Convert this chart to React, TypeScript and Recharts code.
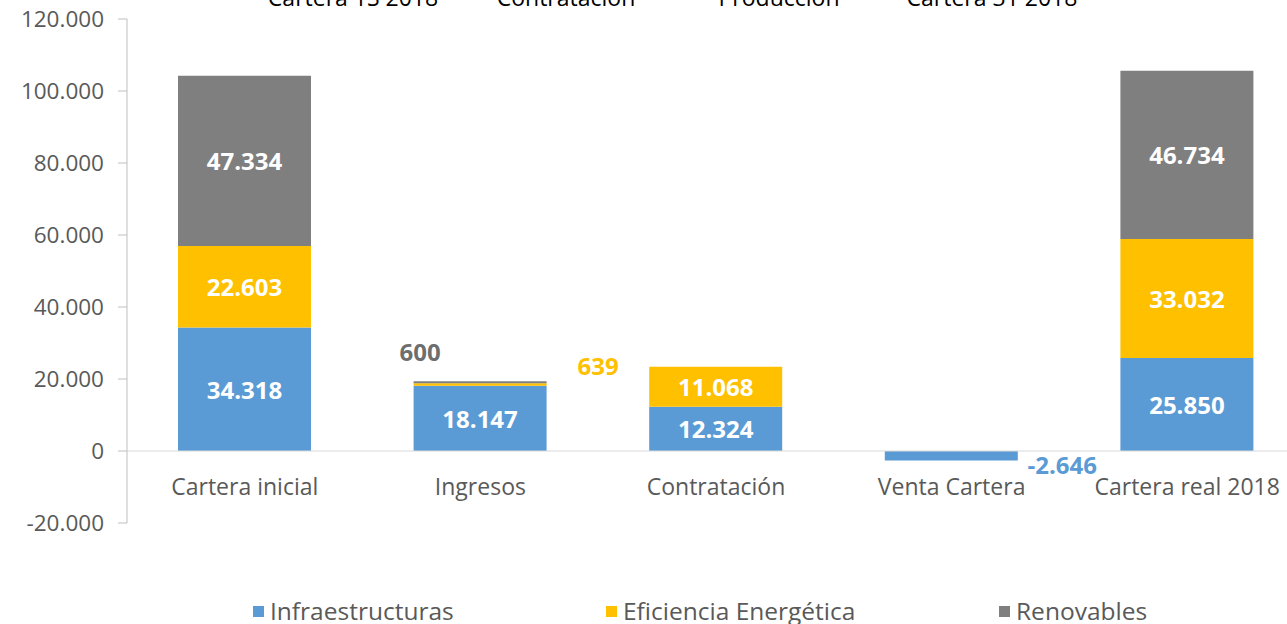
import { JSX } from 'react';
import {
  Bar,
  BarChart,
  LabelList,
  ReferenceLine,
  XAxis,
  YAxis,
} from 'recharts';

// categories and values
const categories = [
  'Cartera inicial',
  'Ingresos',
  'Contratación',
  'Venta Cartera',
  'Cartera real 2018',
];
const infraestructuras = [34318, 18147, 12324, -2646, 25850];
const eficiencia = [22603, 639, 11068, 0, 33032];
const renovables = [47334, 600, 0, 0, 46734];
const yTicks = [-20000, 0, 20000, 40000, 60000, 80000, 100000, 120000];
const topTitles = ['Cartera 1S 2018', 'Contratación', 'Producción', 'Cartera 31 2018'];

const FONT = "'Open Sans', sans-serif";
const TEXT = '#595959';
const COLORS = {
  infra: '#5B9BD5',
  ee: '#FFC000',
  ren: '#7F7F7F',
};

const data = categories.map((name, i) => ({
  name,
  infra: infraestructuras[i],
  ee: eficiencia[i],
  ren: renovables[i],
}));

// labels that sit outside their (thin) segment: [dx, dy] from segment centre
const outside: Record<string, Record<number, [number, number]>> = {
  infra: { 3: [111, 9] },
  ee: { 1: [118, -19] },
  ren: { 1: [-60, -31] },
};
const outsideColor: Record<string, string> = {
  infra: '#5B9BD5',
  ee: '#FFC000',
  ren: '#6E6E6E',
};

const fmt = (v: number): string => {
  const s = Math.abs(v).toString().replace(/\B(?=(\d{3})+(?!\d))/g, '.');
  return v < 0 ? '-' + s : s;
};

const makeLabel = (key: string) => (props: any): JSX.Element | null => {
  const { x, y, width, height, value, index } = props;
  if (!value) return null;
  const cx = Number(x) + Number(width) / 2;
  const cy = Number(y) + Number(height) / 2;
  const off = outside[key]?.[index];
  return (
    <text
      x={off ? cx + off[0] : cx}
      y={off ? cy + off[1] : cy}
      textAnchor='middle'
      dominantBaseline='central'
      fill={off ? outsideColor[key] : '#FFFFFF'}
      fontFamily={FONT}
      fontWeight={700}
      fontSize={24}
    >
      {fmt(Number(value))}
    </text>
  );
};

const CategoryTick = (props: any): JSX.Element => {
  const { x, y, payload } = props;
  return (
    <text
      x={x}
      y={y - 28}
      textAnchor='middle'
      fill={TEXT}
      fontFamily={FONT}
      fontSize={23}
    >
      {payload.value}
    </text>
  );
};

const legendItems = [
  { label: 'Infraestructuras', color: COLORS.infra, left: 253 },
  { label: 'Eficiencia Energética', color: COLORS.ee, left: 606 },
  { label: 'Renovables', color: COLORS.ren, left: 999 },
];
const titleCenters = [353, 566, 779, 992];

export default function App(): JSX.Element {
  return (
    <div
      style={{
        position: 'fixed',
        left: 0,
        top: 0,
        width: 1287,
        height: 624,
        overflow: 'hidden',
        background: '#fff',
        fontFamily: FONT,
      }}
    >
      <BarChart
        width={1305}
        height={624}
        data={data}
        margin={{ top: 19, right: 0, bottom: 71, left: 0 }}
        stackOffset='sign'
        barSize={133}
      >
        <YAxis
          width={127}
          domain={[-20000, 120000]}
          ticks={yTicks}
          interval={0}
          tickFormatter={(v: number) => fmt(v)}
          stroke='#BFBFBF'
          tickSize={9}
          tickMargin={14}
          tick={{ fontSize: 22.5, fill: TEXT, fontFamily: FONT }}
        />
        <XAxis
          dataKey='name'
          height={30}
          axisLine={false}
          tickLine={false}
          tickSize={0}
          tickMargin={0}
          interval={0}
          tick={<CategoryTick />}
        />
        <ReferenceLine y={0} stroke='#D9D9D9' strokeWidth={1} />
        <Bar dataKey='infra' stackId='a' fill={COLORS.infra} isAnimationActive={false}>
          <LabelList dataKey='infra' content={makeLabel('infra')} />
        </Bar>
        <Bar dataKey='ee' stackId='a' fill={COLORS.ee} isAnimationActive={false}>
          <LabelList dataKey='ee' content={makeLabel('ee')} />
        </Bar>
        <Bar dataKey='ren' stackId='a' fill={COLORS.ren} isAnimationActive={false}>
          <LabelList dataKey='ren' content={makeLabel('ren')} />
        </Bar>
      </BarChart>
      <svg
        width={1287}
        height={30}
        style={{ position: 'absolute', left: 0, top: 0, pointerEvents: 'none' }}
      >
        {topTitles.map((t, i) => (
          <text
            key={t}
            x={titleCenters[i]}
            y={6}
            textAnchor='middle'
            fill='#000'
            fontFamily={FONT}
            fontSize={23}
          >
            {t}
          </text>
        ))}
      </svg>
      {legendItems.map((item) => (
        <div
          key={item.label}
          style={{
            position: 'absolute',
            left: item.left,
            top: 596,
            display: 'flex',
            alignItems: 'center',
            fontSize: 24.5,
            color: TEXT,
            lineHeight: '30px',
            whiteSpace: 'nowrap',
          }}
        >
          <span
            style={{
              display: 'inline-block',
              width: 11,
              height: 11,
              background: item.color,
              marginRight: 6,
            }}
          />
          {item.label}
        </div>
      ))}
    </div>
  );
}
